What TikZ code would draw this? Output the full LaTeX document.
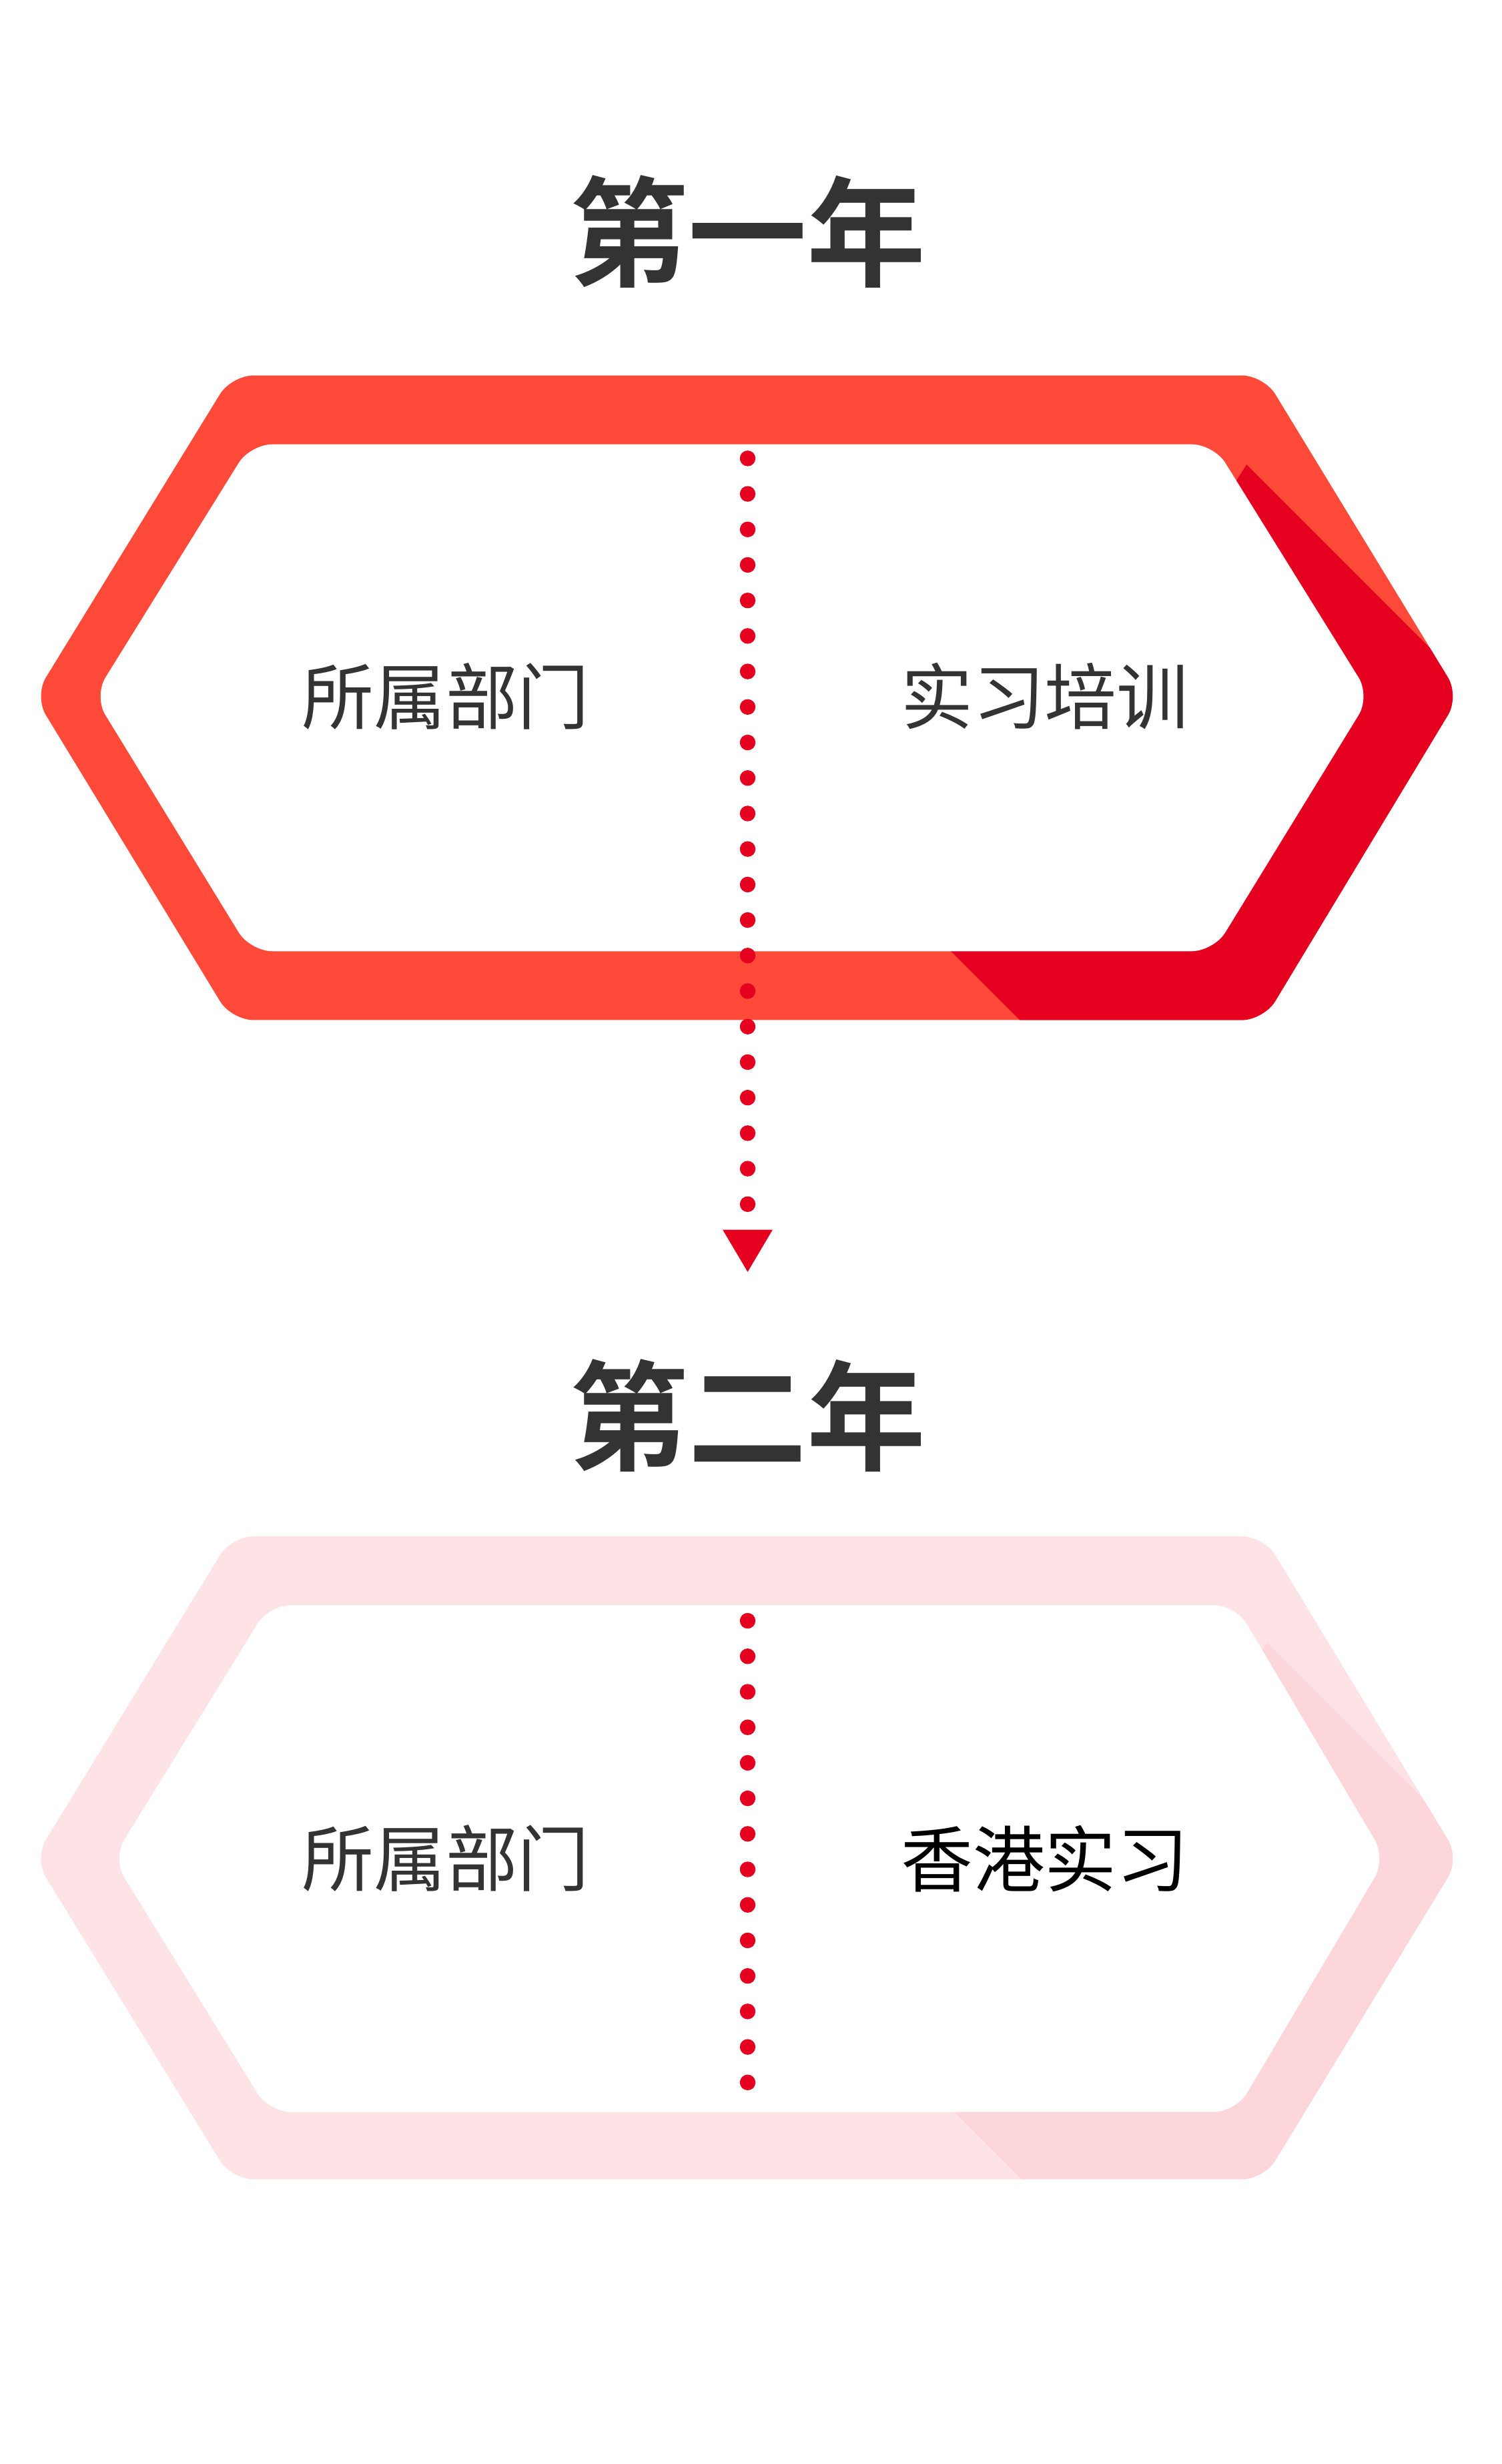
\documentclass[tikz,border=0pt]{standalone}
\usepackage{fontspec}
\newfontfamily\cjk{Noto Sans CJK SC}
\newfontfamily\cjkb{Noto Sans CJK SC Bold}
\definecolor{redA}{HTML}{FF4A3A}
\definecolor{redB}{HTML}{E5001F}
\definecolor{pinkA}{HTML}{FDE3E5}
\definecolor{pinkB}{HTML}{FCD6DB}
\definecolor{txt}{HTML}{333333}
\tikzset{
 title/.style={font=\cjkb\fontsize{76}{80}\selectfont,text=txt},
 lbl/.style={font=\cjk\fontsize{46}{50}\selectfont,text=txt},
 dots/.style={draw=redB,line width=10pt,line cap=round,dash pattern=on 0pt off 22.7pt},
 rc/.style={rounded corners=14pt}
}
\begin{document}
\begin{tikzpicture}[x=1pt,y=-1pt]
\useasboundingbox (0,0) rectangle (960,1575);
% first hexagon
\fill[redA,rc] (148,240)--(808,240)--(933,445)--(808,652)--(148,652)--(22,445)--cycle;
\begin{scope}
\clip[rc] (148,240)--(808,240)--(933,445)--(808,652)--(148,652)--(22,445)--cycle;
\fill[redB] (797,297)--(945,445)--(945,670)--(670,670)--(600,600)--cycle;
\end{scope}
\fill[white,rc] (160,284)--(776,284)--(876,445)--(776,608)--(160,608)--(60,445)--cycle;
\node[title] (t1) at (478,148) {第一年};
\node[lbl] (a1) at (285,445) {所属部门};
\node[lbl] (b1) at (668,445) {实习培训};
\coordinate (d1s) at (478,293);
\coordinate (d1e) at (478,770);
\draw[dots] (d1s)--(d1e);
\coordinate (arr) at (478,813);
\fill[redB] (462,786)--(494,786)--(arr)--cycle;
% second hexagon
\fill[pinkA,rc] (148,982)--(808,982)--(933,1188)--(808,1393)--(148,1393)--(22,1188)--cycle;
\begin{scope}
\clip[rc] (148,982)--(808,982)--(933,1188)--(808,1393)--(148,1393)--(22,1188)--cycle;
\fill[pinkB] (810,1050)--(945,1185)--(945,1410)--(670,1410)--(610,1350)--cycle;
\end{scope}
\fill[white,rc] (172,1026)--(790,1026)--(886,1188)--(790,1350)--(172,1350)--(72,1188)--cycle;
\node[title] (t2) at (478,905) {第二年};
\node[lbl] (a2) at (285,1188) {所属部门};
\node[lbl,text=black] (b2) at (668,1188) {香港实习};
\coordinate (d2s) at (478,1036);
\coordinate (d2e) at (478,1340);
\draw[dots] (d2s)--(d2e);
\end{tikzpicture}
\end{document}
